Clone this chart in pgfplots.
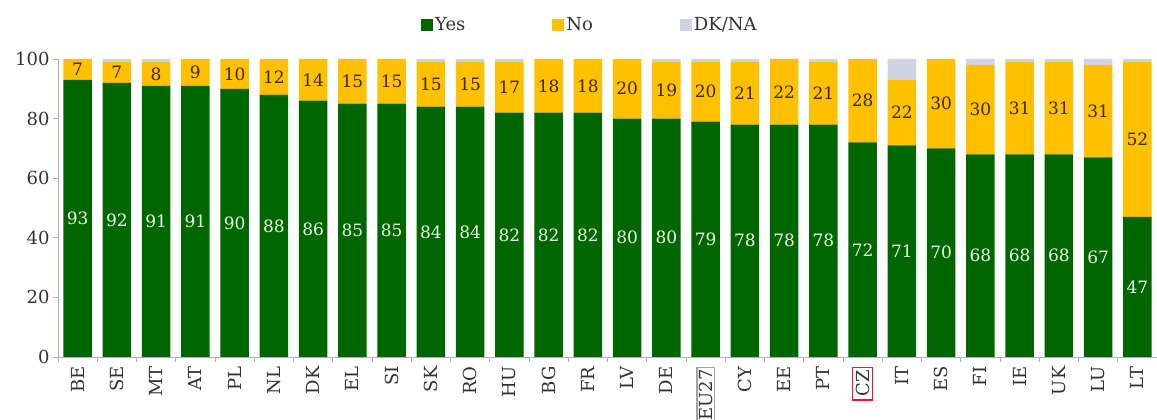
\documentclass[border=0pt]{standalone}
\usepackage{pgfplots}
\pgfplotsset{compat=1.18}
\usepackage{pgfplotstable}
\usepackage{fontspec}
\setmainfont{DejaVu Serif}
\definecolor{cyes}{RGB}{0,102,0}
\definecolor{cno}{RGB}{255,192,0}
\definecolor{cdk}{RGB}{208,211,226}
\definecolor{cax}{RGB}{175,175,185}
\definecolor{ctxt}{RGB}{50,50,50}
\definecolor{cnolab}{RGB}{60,40,10}
\definecolor{cyeslab}{RGB}{235,250,230}
\definecolor{cboxred}{RGB}{225,25,35}
\definecolor{cboxgray}{RGB}{160,160,165}
\newcommand\boxlab[3]{{\setlength\fboxsep{#2}\setlength\fboxrule{1.4bp}\fcolorbox{#1}{white}{#3}}}
\pgfplotstableread{
x yes no dk
0 93 7 0
1 92 7 1
2 91 8 1
3 91 9 0
4 90 10 0
5 88 12 0
6 86 14 0
7 85 15 0
8 85 15 0
9 84 15 1
10 84 15 1
11 82 17 1
12 82 18 0
13 82 18 0
14 80 20 0
15 80 19 1
16 79 20 1
17 78 21 1
18 78 22 0
19 78 21 1
20 72 28 0
21 71 22 7
22 70 30 0
23 68 30 2
24 68 31 1
25 68 31 1
26 67 31 2
27 47 52 1
}\data
\pgfplotstablecreatecol[expr={\thisrow{yes}/2}]{ypos}\data
\pgfplotstablecreatecol[expr={\thisrow{yes}+\thisrow{no}/2}]{npos}\data
\pgfplotsset{base/.style={scale only axis, width=1099bp, height=298bp,
  at={(58bp,63bp)}, anchor=south west, xmin=-0.5, xmax=27.5, ymin=0, ymax=100,
  /pgf/number format/assume math mode=true}}
\begin{document}
\begin{tikzpicture}
\path[use as bounding box] (0,0) rectangle (1157bp,420bp);
\begin{axis}[base, ybar stacked, bar width=0.72,
  axis lines=left, axis line style={-, draw=cax, line width=1bp},
  tick align=outside,
  tick style={draw=cax, line width=0.8bp},
  major tick length=5bp, minor tick length=5bp,
  xtick={0,...,27},
  major x tick style={draw=none},
  minor xtick={-0.5,0.5,...,27.5},
  xticklabels={BE,SE,MT,AT,PL,NL,DK,EL,SI,SK,RO,HU,BG,FR,LV,DE,\boxlab{cboxgray}{1.2bp}{EU27},CY,EE,PT,\boxlab{cboxred}{2.5bp}{CZ},IT,ES,FI,IE,UK,LU,LT},
  xticklabel style={rotate=90, anchor=east, font=\fontsize{18bp}{21bp}\selectfont, text=ctxt, xshift=-1bp},
  ytick={0,20,...,100},
  yticklabel style={font=\fontsize{18bp}{21bp}\selectfont, text=ctxt},
  legend image code/.code={\fill[#1] (0bp,-6bp) rectangle (12bp,6bp);},
  legend style={at={(axis description cs:0.484,1.114)}, anchor=center, draw=none, fill=none,
    legend columns=-1, font=\fontsize{18bp}{21bp}\selectfont, text=ctxt,
    /tikz/every even column/.append style={column sep=85bp}},
]
\addplot[fill=cyes, draw=none] table[x=x, y=yes]{\data};
\addlegendentry{Yes}
\addplot[fill=cno, draw=none] table[x=x, y=no]{\data};
\addlegendentry{No}
\addplot[fill=cdk, draw=none] table[x=x, y=dk]{\data};
\addlegendentry{DK/NA}
\end{axis}
\begin{axis}[base, hide axis, clip=false]
\addplot[draw=none, mark=none, point meta=explicit,
  nodes near coords={\pgfmathprintnumber{\pgfplotspointmeta}},
  every node near coord/.append style={anchor=center, text=cyeslab, font=\fontsize{17bp}{20bp}\selectfont}]
  table[x=x, y=ypos, meta=yes]{\data};
\addplot[draw=none, mark=none, point meta=explicit,
  nodes near coords={\pgfmathprintnumber{\pgfplotspointmeta}},
  every node near coord/.append style={anchor=center, text=cnolab, font=\fontsize{17bp}{20bp}\selectfont}]
  table[x=x, y=npos, meta=no]{\data};
\end{axis}
\end{tikzpicture}
\end{document}
